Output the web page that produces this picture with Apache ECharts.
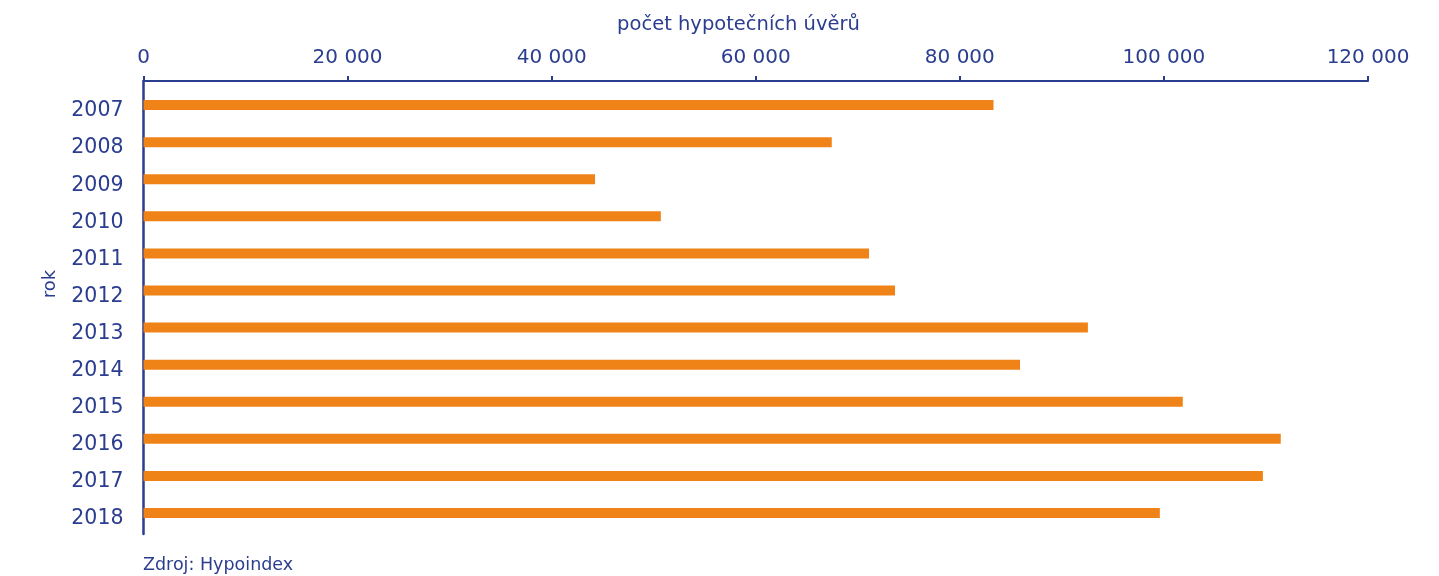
<!DOCTYPE html>
<html><head><meta charset="utf-8">
<script src="https://cdn.jsdelivr.net/npm/echarts@6/dist/echarts.min.js"></script>
<style>html,body{margin:0;padding:0;background:#fff}#c{width:1439px;height:576px}</style>
</head><body><div id="c"></div>
<script>
const years = ['2007','2008','2009','2010','2011','2012','2013','2014','2015','2016','2017','2018'];
const loans = [83300, 67450, 44250, 50700, 71100, 73650, 92550, 85900, 101850, 111450, 109700, 99600];
const xTicks = [0, 20000, 40000, 60000, 80000, 100000, 120000];
const xName = 'počet hypotečních úvěrů';
const yName = 'rok';
const source = 'Zdroj: Hypoindex';

const blue = '#2a3d8f';
const orange = '#f08318';
const font = 'DejaVu Sans';
const chart = echarts.init(document.getElementById('c'));
chart.setOption({
  animation: false,
  textStyle: {fontFamily: font},
  grid: [
    {left: 143.5, right: 71, top: 86.5, bottom: 44.5},
    {left: 143.5, right: 71, top: 81, bottom: 42}
  ],
  graphic: [
    {type: 'text', left: 143, top: 556, style: {text: source, fill: blue, fontSize: 17.5, fontFamily: font}},
    {type: 'text', x: 50, y: 284, rotation: Math.PI / 2,
     style: {text: yName, fill: blue, fontSize: 18, fontFamily: font, align: 'center', verticalAlign: 'middle'}},
    {type: 'text', x: 738.5, y: 25,
     style: {text: xName, fill: blue, fontSize: 19.5, fontFamily: font, align: 'center', verticalAlign: 'middle'}}
  ],
  xAxis: [{
    type: 'value', position: 'top', offset: 5.5, min: xTicks[0], max: xTicks[xTicks.length-1], interval: 20000,
    axisLine: {show: true, lineStyle: {color: blue, width: 2}},
    axisTick: {show: true, length: 5, lineStyle: {color: blue, width: 2}},
    splitLine: {show: false},
    axisLabel: {color: blue, fontSize: 20, margin: 13,
      formatter: v => String(v).replace(/\B(?=(\d{3})+(?!\d))/g, '\u00a0')}
  }, {
    gridIndex: 1, type: 'value', show: false, min: 0, max: 1
  }],
  yAxis: [{
    type: 'category', data: years, inverse: true,
    axisLine: {show: false},
    axisTick: {show: false},
    axisLabel: {color: blue, margin: 20, verticalAlign: 'middle',
      formatter: v => '{a|' + v + '}',
      rich: {a: {color: blue, fontSize: 20.5, fontFamily: font, padding: [12, 0, 0, 0]}}}
  }, {
    gridIndex: 1, type: 'value', min: 0, max: 1,
    axisLine: {show: true, lineStyle: {color: blue, width: 2.5}},
    axisTick: {show: false}, axisLabel: {show: false}, splitLine: {show: false}
  }],
  series: [{type: 'bar', data: loans, barWidth: 10, itemStyle: {color: orange}}]
});
</script></body></html>
